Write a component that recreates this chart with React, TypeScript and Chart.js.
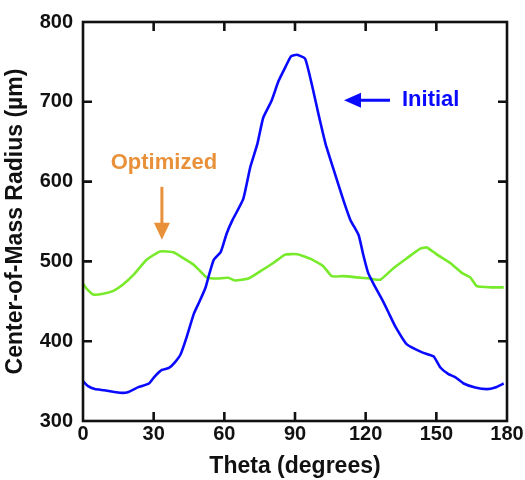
import React, { useEffect, useRef } from "react";
import { Chart, registerables } from "chart.js";

Chart.register(...registerables);

// Initial (blue) trace: theta in degrees, centre-of-mass radius in µm
const thetaInitial = [
  0, 2, 5, 9, 15.5, 19, 23.5, 28, 30.5, 33.5, 36.5, 39, 41.5, 44, 47, 49.5,
  52, 53.5, 55.5, 58.5, 61, 63.5, 68, 71, 74, 76.5, 80, 83, 86, 88.3, 90.8,
  94.3, 97.2, 100, 103, 106.3, 110.5, 113.5, 117, 119, 121, 123.5, 127,
  129.7, 132.5, 137.5, 144, 148.8, 151.7, 155, 158, 161.6, 166.5, 171.5, 175,
  178.6,
];
const radiusInitial = [
  350, 344, 340, 338.5, 335.5, 336, 342.5, 347, 356, 364, 366.5, 373.5, 384,
  405, 434, 450, 467, 483, 502, 512, 535, 552, 578, 618, 647, 680, 701, 726,
  744, 757, 759, 754, 721, 684, 647, 616, 577, 552, 533, 508, 486, 471, 452,
  436, 419, 396, 386, 381, 367, 359, 355, 347, 342, 340, 342, 347,
];

// Optimized (green) trace
const thetaOptimized = [
  0, 1.5, 4.4, 8.6, 12.9, 17, 21.4, 27, 32.7, 38.4, 42.6, 46.9, 49.7, 52.5,
  56.8, 61.7, 64.6, 70.2, 75.2, 80.8, 85.8, 91, 96.4, 102, 105.6, 110.6,
  116.3, 121.9, 126.2, 131.8, 137.5, 143.2, 146, 150.3, 155.9, 160.9, 164.4,
  167.2, 172.9, 178.6,
];
const radiusOptimized = [
  472, 466, 458.5, 459.5, 463, 471, 483, 502, 512.5, 511.5, 504, 496, 488,
  480, 478.5, 479.5, 476, 478.5, 487.5, 498, 508.5, 509, 503.5, 494, 481.5,
  481.5, 480, 478.5, 477, 491.5, 504, 516, 517.5, 508.5, 498, 485.5, 480, 469,
  467.5, 467.5,
];

const xTicks = [0, 30, 60, 90, 120, 150, 180];
const yTicks = [300, 400, 500, 600, 700, 800];

const BLUE = "#0a0aff";
const GREEN = "#77ea2a";
const ORANGE = "#e8913a";

const toPoints = (xs: number[], ys: number[]) =>
  xs.map((x, i) => ({ x, y: ys[i] }));

// Box frame with inward tick marks on all four sides, plus the two callouts
const framePlugin = {
  id: "frameAndCallouts",
  afterDraw(chart: any) {
    const { ctx, chartArea: a, scales } = chart;
    const xs = scales.x;
    const ys = scales.y;
    ctx.save();
    ctx.strokeStyle = "#111";
    ctx.lineWidth = 2.6;
    ctx.strokeRect(a.left, a.top, a.right - a.left, a.bottom - a.top);
    const tl = 9;
    ctx.beginPath();
    xTicks.slice(1, -1).forEach((t) => {
      const px = xs.getPixelForValue(t);
      ctx.moveTo(px, a.bottom);
      ctx.lineTo(px, a.bottom - tl);
      ctx.moveTo(px, a.top);
      ctx.lineTo(px, a.top + tl);
    });
    yTicks.slice(1, -1).forEach((t) => {
      const py = ys.getPixelForValue(t);
      ctx.moveTo(a.left, py);
      ctx.lineTo(a.left + tl, py);
      ctx.moveTo(a.right, py);
      ctx.lineTo(a.right - tl, py);
    });
    ctx.stroke();

    // "Initial" callout: left-pointing arrow and label
    const iy = ys.getPixelForValue(702);
    const tipX = xs.getPixelForValue(110.8);
    ctx.strokeStyle = BLUE;
    ctx.fillStyle = BLUE;
    ctx.lineWidth = 3;
    ctx.beginPath();
    ctx.moveTo(tipX + 14, iy);
    ctx.lineTo(tipX + 46, iy);
    ctx.stroke();
    ctx.beginPath();
    ctx.moveTo(tipX, iy);
    ctx.lineTo(tipX + 17, iy - 7.5);
    ctx.lineTo(tipX + 17, iy + 7.5);
    ctx.closePath();
    ctx.fill();
    ctx.font = "bold 22px 'Liberation Sans', Arial, sans-serif";
    ctx.textAlign = "left";
    ctx.textBaseline = "middle";
    ctx.fillText("Initial", tipX + 58, iy);

    // "Optimized" callout: label with a downward arrow
    const ox = xs.getPixelForValue(33.5);
    const oy = ys.getPixelForValue(623);
    ctx.fillStyle = ORANGE;
    ctx.strokeStyle = ORANGE;
    ctx.textAlign = "center";
    ctx.fillText("Optimized", ox + 2, oy);
    const tipY = ys.getPixelForValue(527);
    ctx.lineWidth = 3;
    ctx.beginPath();
    ctx.moveTo(ox, tipY - 53);
    ctx.lineTo(ox, tipY - 12);
    ctx.stroke();
    ctx.beginPath();
    ctx.moveTo(ox, tipY);
    ctx.lineTo(ox - 8, tipY - 17);
    ctx.lineTo(ox + 8, tipY - 17);
    ctx.closePath();
    ctx.fill();
    ctx.restore();
  },
};

export default function App() {
  const canvasRef = useRef<HTMLCanvasElement | null>(null);

  useEffect(() => {
    if (!canvasRef.current) return;
    const tickFont = {
      family: "'Liberation Sans', Arial, sans-serif",
      size: 20,
      weight: "bold" as const,
    };
    const titleFont = {
      family: "'Liberation Sans', Arial, sans-serif",
      size: 23,
      weight: "bold" as const,
    };
    const chart = new Chart(canvasRef.current, {
      type: "line",
      data: {
        datasets: [
          {
            label: "Initial",
            data: toPoints(thetaInitial, radiusInitial),
            borderColor: BLUE,
            borderWidth: 2.6,
            pointRadius: 0,
            tension: 0.15,
          },
          {
            label: "Optimized",
            data: toPoints(thetaOptimized, radiusOptimized),
            borderColor: GREEN,
            borderWidth: 2.6,
            pointRadius: 0,
            tension: 0.15,
          },
        ],
      },
      options: {
        animation: false,
        responsive: false,
        devicePixelRatio: 1,
        layout: { padding: { left: 0, top: 19, right: 18, bottom: 0 } },
        plugins: {
          legend: { display: false },
          tooltip: { enabled: false },
        },
        scales: {
          x: {
            type: "linear",
            min: 0,
            max: 180,
            afterBuildTicks: (s: any) => {
              s.ticks = xTicks.map((v) => ({ value: v }));
            },
            afterFit: (s: any) => {
              s.height = 59;
            },
            grid: { display: false, drawTicks: false },
            border: { display: false },
            ticks: {
              color: "#111",
              font: tickFont,
              padding: 1,
              maxRotation: 0,
              autoSkip: false,
            },
            title: {
              display: true,
              text: "Theta (degrees)",
              color: "#111",
              font: titleFont,
              padding: { top: 0, bottom: 0 },
            },
          },
          y: {
            type: "linear",
            min: 300,
            max: 800,
            afterBuildTicks: (s: any) => {
              s.ticks = yTicks.map((v) => ({ value: v }));
            },
            afterFit: (s: any) => {
              s.width = 83;
            },
            grid: { display: false, drawTicks: false },
            border: { display: false },
            ticks: {
              color: "#111",
              font: tickFont,
              padding: 10,
              autoSkip: false,
            },
            title: {
              display: true,
              text: "Center-of-Mass Radius (µm)",
              color: "#111",
              font: titleFont,
              padding: { top: 2, bottom: 0 },
            },
          },
        },
      },
      plugins: [framePlugin],
    });
    return () => chart.destroy();
  }, []);

  return (
    <div
      style={{
        position: "fixed",
        left: 0,
        top: 0,
        width: 525,
        height: 480,
        background: "#fff",
      }}
    >
      <canvas ref={canvasRef} width={525} height={480} />
    </div>
  );
}
